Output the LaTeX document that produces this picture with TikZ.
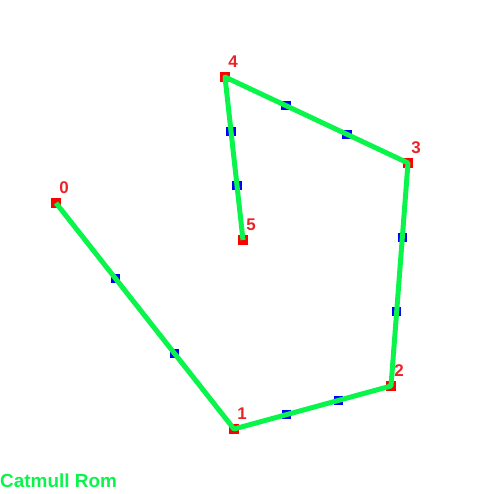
\documentclass[tikz,border=0pt]{standalone}
\usepackage{fontspec}
\setmainfont{Liberation Sans}
\usepackage{xcolor}
\usetikzlibrary{positioning}
\definecolor{crgreen}{RGB}{10,245,75}
\definecolor{crred}{RGB}{235,35,40}

\begin{document}
\begin{tikzpicture}[x=1bp, y=-1bp,
  ctrl/.style={fill=red, inner sep=0pt, minimum size=10bp},
  mid/.style={fill=blue, inner sep=0pt, minimum size=9.5bp},
  lab/.style={text=crred, font=\bfseries\fontsize{17}{17}\selectfont, inner sep=0pt},
  crv/.style={draw=crgreen, line width=5bp, line join=round}
]
\useasboundingbox (0,0) rectangle (500,494);
% control points
\node[ctrl] (p0) at (56,203) {};
\node[ctrl] (p1) at (234,429) {};
\node[ctrl] (p2) at (391,386) {};
\node[ctrl] (p3) at (408,163) {};
\node[ctrl] (p4) at (225,77) {};
\node[ctrl] (p5) at (243,240) {};
% point numbers
\foreach \i in {0,...,5}
  \node[lab, above right=4bp and -2bp of p\i] (l\i) {\i};
% thirds of each segment
\foreach \a/\b in {0/1,1/2,2/3,3/4,4/5}
  \path (p\a.center) -- (p\b.center)
    node[mid, pos=1/3] (m\a-1) {}
    node[mid, pos=2/3] (m\a-2) {};
\draw[crv] (p0.center) -- (p1.center) -- (p2.center) -- (p3.center) -- (p4.center) -- (p5.center);
\node[font=\bfseries\fontsize{19}{19}\selectfont, text=crgreen, anchor=base west, inner sep=0pt] (title) at (0,487) {Catmull Rom};
\end{tikzpicture}
\end{document}
